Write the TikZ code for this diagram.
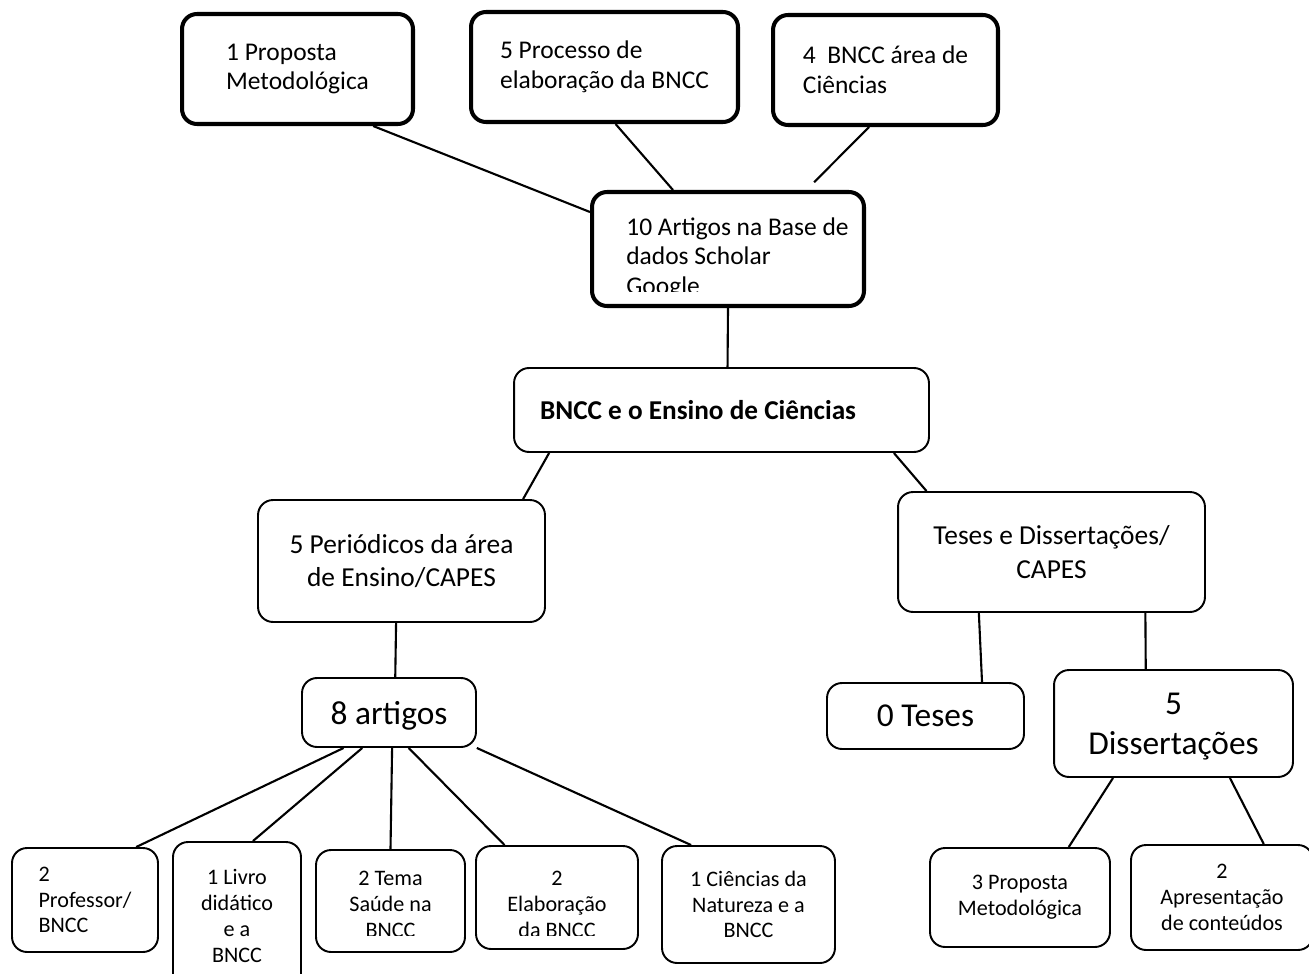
\documentclass[tikz,border=0pt]{standalone}
\usepackage{fontspec}
\setmainfont{Carlito}

\begin{document}
\begin{tikzpicture}[x=0.02cm,y=-0.02cm,
  heavy/.style={draw, line width=2.3pt, rounded corners=0.3cm, align=left},
  light/.style={draw, line width=1.1pt, rounded corners=0.3cm, align=center},
  link/.style={line width=1.2pt},
  topfont/.style={font=\fontsize{14.5}{17}\selectfont},
  midfont/.style={font=\fontsize{15.6}{19}\selectfont},
  bigfont/.style={font=\fontsize{19}{23}\selectfont, text depth=0pt},
  smallfont/.style={font=\fontsize{12.6}{14.7}\selectfont}]
\useasboundingbox (0,0) rectangle (1309,974);

% top row
\node[heavy, topfont, minimum width=4.62cm, minimum height=2.2cm] (prop1) at (297.5,69) {1 Proposta\\Metodológica};
\node[heavy, topfont, minimum width=5.34cm, minimum height=2.2cm] (proc5) at (604.5,67) {5 Processo de\\elaboração da BNCC};
\node[heavy, topfont, minimum width=4.5cm, minimum height=2.2cm] (ciencias4) at (885.5,70) {4\ \ BNCC área de\\Ciências};

\node[heavy, minimum width=5.44cm, minimum height=2.28cm] (scholar) at (728,249) {};
\begin{scope}
\clip (592,192) rectangle (864,291);
\node[topfont, anchor=north west, inner sep=0pt, align=left] (scholartext) at (626,217) {10 Artigos na Base de\\dados Scholar\\Google};
\end{scope}

% middle
\node[light, align=flush left, font=\fontsize{15.5}{18}\selectfont\bfseries, minimum width=8.3cm, minimum height=1.68cm, text width=7.26cm, inner xsep=0.52cm] (bncc) at (721.5,410) {BNCC e o Ensino de Ciências};
\node[light, midfont, minimum width=5.74cm, minimum height=2.44cm] (periodicos) at (401.5,561) {5 Periódicos da área\\de Ensino/CAPES};
\node[light, midfont, minimum width=6.14cm, minimum height=2.4cm] (teses) at (1051.5,552) {Teses e Dissertações/\\CAPES};

\node[light, bigfont, minimum width=3.48cm, minimum height=1.38cm] (artigos) at (389,712.5) {8 artigos};
\node[light, bigfont, minimum width=3.94cm, minimum height=1.32cm] (zero) at (925.5,716) {0 Teses};
\node[light, bigfont, minimum width=4.78cm, minimum height=2.14cm] (diss) at (1173.5,723.5) {5\\Dissertações};

% bottom row
\node[light, smallfont, minimum width=3.6cm, minimum height=1.98cm] (prop3) at (1020,897.5) {3 Proposta\\Metodológica};
\node[light, smallfont, minimum width=3.64cm, minimum height=2.1cm] (apres) at (1222,897.5) {2\\Apresentação\\de conteúdos};

\node[light, smallfont, align=left, minimum width=2.92cm, minimum height=2.08cm] (professor) at (85,900) {2\\Professor/\\BNCC};
\node[light, smallfont, minimum width=2.56cm, minimum height=2.96cm] (livro) at (237,916) {1 Livro\\didático\\e a\\BNCC};

\node[light, minimum width=2.98cm, minimum height=2.04cm] (tema) at (390.5,901) {};
\begin{scope}
\clip (316,848) rectangle (465,935);
\node[smallfont, anchor=north, inner sep=0pt, align=center] (tematext) at (390.5,871) {2 Tema\\Saúde na\\BNCC};
\end{scope}

\node[light, minimum width=3.24cm, minimum height=2.06cm] (elaboracao) at (557,897.5) {};
\begin{scope}
\clip (476,846) rectangle (638,935);
\node[smallfont, anchor=north, inner sep=0pt, align=center] (elabtext) at (557,871) {2\\Elaboração\\da BNCC};
\end{scope}

\node[light, smallfont, minimum width=3.46cm, minimum height=2.34cm] (natureza) at (748.5,904.5) {1 Ciências da\\Natureza e a\\BNCC};

% connectors
\draw[link] (prop1.-37) -- (scholar.165);
\draw[link] (proc5.-79) -- (scholar.133);
\draw[link, shorten >=0.22cm] (ciencias4.-106) -- (scholar.37);
\draw[link] (scholar.south) -- (bncc.82);
\draw[link] (bncc.-166) -- (periodicos.27);
\draw[link] (bncc.-14) -- (teses.154);
\draw[link] (periodicos.-95) -- (artigos.80);
\draw[link] (teses.-140) -- (zero.31);
\draw[link] (teses.-33) -- (diss.117);
\draw[link] (diss.-138) -- (prop3.46);
\draw[link] (diss.-44) -- (apres.52);
\draw[link] (artigos.-142) -- (professor.46);
\draw[link] (artigos.-127) -- (livro.78);
\draw[link] (artigos.-85) -- (tema.north);
\draw[link] (artigos.-61) -- (elaboracao.135);
\draw[link] (artigos.-22) -- (natureza.134);
\end{tikzpicture}
\end{document}
